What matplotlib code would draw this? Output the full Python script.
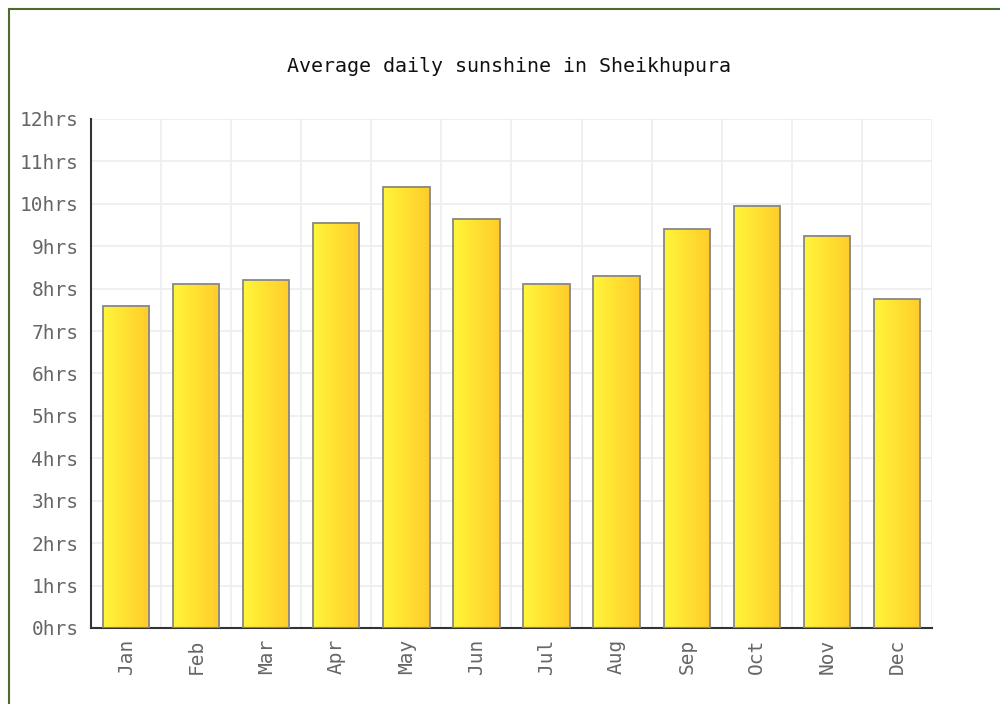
import matplotlib.pyplot as plt
import numpy as np
from matplotlib.colors import LinearSegmentedColormap
from matplotlib.patches import Rectangle

months = ["Jan", "Feb", "Mar", "Apr", "May", "Jun", "Jul", "Aug", "Sep", "Oct", "Nov", "Dec"]
sunshine = [7.6, 8.1, 8.2, 9.55, 10.4, 9.65, 8.1, 8.3, 9.4, 9.95, 9.25, 7.75]
yticks = list(range(0, 13))
ylabels = [f"{v}hrs" for v in yticks]

plt.rcParams['font.family'] = ['DejaVu Sans Mono']

fig = plt.figure(figsize=(10, 7.04), dpi=100)
ax = fig.add_axes([0.091, 0.108, 0.841, 0.723])

# frame round the picture (cropped on the right and bottom)
fig.patches.append(Rectangle((0.009, -0.1), 1.2, 0.1 + 1 - 0.0128, transform=fig.transFigure,
                             fill=False, edgecolor='#4d6b2e', linewidth=1.5))

x = np.arange(len(months))
bars = ax.bar(x, sunshine, width=0.66, color='none', edgecolor='#888888', linewidth=1.3, zorder=3)

cmap = LinearSegmentedColormap.from_list('sun', ['#fff53a', '#ffcc2a'])
grad = np.linspace(0, 1, 64).reshape(1, -1)
for b in bars:
    ax.imshow(grad, cmap=cmap, aspect='auto', zorder=2,
              extent=[b.get_x(), b.get_x() + b.get_width(), 0, b.get_height()])

ax.set_xlim(-0.5, len(months) - 0.5)
ax.set_ylim(0, 12)
ax.set_yticks(yticks)
ax.set_yticklabels(ylabels)
ax.set_xticks(x)
ax.set_xticklabels(months, rotation=90)
ax.set_xticks(np.arange(-0.5, len(months)), minor=True)

ax.grid(True, which='major', axis='y', color='#eeeeee', linewidth=1.2, zorder=0)
ax.grid(True, which='minor', axis='x', color='#eeeeee', linewidth=1.2, zorder=0)
ax.set_axisbelow(True)

for s in ['top', 'right']:
    ax.spines[s].set_visible(False)
ax.spines['left'].set_color('#333333')
ax.spines['bottom'].set_color('#333333')
ax.spines['left'].set_linewidth(1.5)
ax.spines['bottom'].set_linewidth(1.5)

ax.tick_params(axis='both', which='both', length=0, labelsize=14, labelcolor='#666666')
ax.tick_params(axis='y', pad=9)
ax.tick_params(axis='x', pad=8)

fig.text(0.509, 0.905, "Average daily sunshine in Sheikhupura", ha='center', va='center',
         fontsize=14.4, color='#111111')

fig.savefig("out.png", dpi=100)
